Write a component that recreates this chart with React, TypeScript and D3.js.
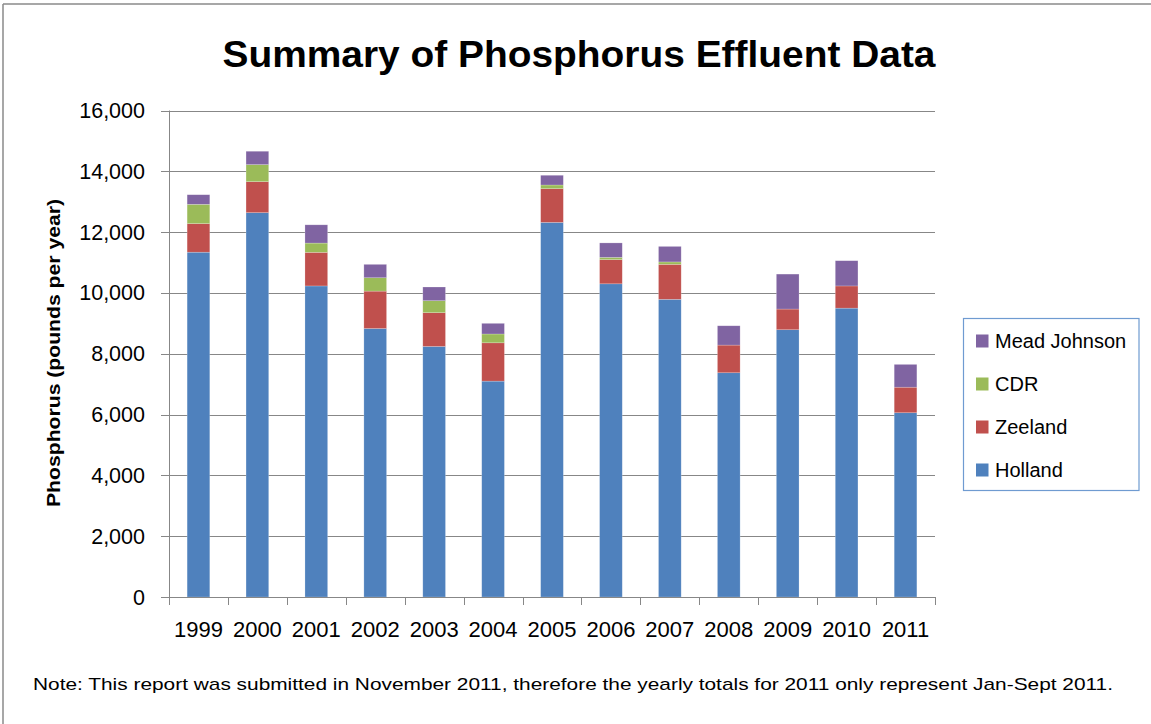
import React from "react";
import * as d3 from "d3";

const years = ["1999","2000","2001","2002","2003","2004","2005","2006","2007","2008","2009","2010","2011"];
const holland = [11340, 12640, 10230, 8830, 8240, 7100, 12320, 10300, 9790, 7375, 8790, 9500, 6060];
const zeeland = [940, 1020, 1105, 1230, 1110, 1260, 1110, 795, 1150, 910, 680, 730, 840];
const cdr = [635, 560, 305, 440, 395, 290, 120, 75, 80, 0, 0, 0, 0];
const meadJohnson = [315, 440, 600, 440, 450, 350, 320, 475, 510, 635, 1150, 830, 750];
const yTicks = [0, 2000, 4000, 6000, 8000, 10000, 12000, 14000, 16000];

const seriesNames = ["Holland", "Zeeland", "CDR", "Mead Johnson"];
const seriesColors = ["#4F81BD", "#C0504D", "#9BBB59", "#8064A2"];

const W = 1151, H = 724;
const plotL = 169, plotR = 935, plotT = 110.5, plotB = 597;
const FONT = "'Liberation Sans', Arial, sans-serif";

export default function App() {
  const table = years.map((y, i) => ({
    year: y,
    Holland: holland[i],
    Zeeland: zeeland[i],
    CDR: cdr[i],
    "Mead Johnson": meadJohnson[i],
  }));
  const stack = d3.stack<any>().keys(seriesNames)(table);
  const x = d3.scaleBand().domain(years).range([plotL, plotR]).paddingInner(0.615).paddingOuter(0.3075);
  const y = d3.scaleLinear().domain([0, 16000]).range([plotB, plotT]);
  const fmt = d3.format(",");
  const step = x.step();
  const boundaries = d3.range(years.length + 1).map((i) => plotL + i * step);
  const legendItems = [...seriesNames].reverse();

  return (
    <svg width={W} height={H} style={{ position: "absolute", left: 0, top: 0, display: "block", background: "#fff" }}>
      <rect x={0} y={0} width={W} height={H} fill="#fff" />
      <line x1={3} y1={4} x2={W} y2={4} stroke="#8a8a8a" strokeWidth={1.5} />
      <line x1={3} y1={4} x2={3} y2={H} stroke="#8a8a8a" strokeWidth={1.5} />

      <text x={579} y={67} textAnchor="middle" fontFamily={FONT} fontWeight="bold" fontSize={37}
        textLength={713} lengthAdjust="spacingAndGlyphs" fill="#000">Summary of Phosphorus Effluent Data</text>

      {yTicks.map((t) => (
        <g key={t}>
          <line x1={plotL - 8} x2={plotR} y1={Math.round(y(t)) + 0.5} y2={Math.round(y(t)) + 0.5} stroke="#878787" strokeWidth={1} />
          <text x={145} y={y(t) + 7.5} textAnchor="end" fontFamily={FONT} fontSize={21.5} fill="#000">{fmt(t)}</text>
        </g>
      ))}

      {stack.map((s, si) => (
        <g key={seriesNames[si]} fill={seriesColors[si]}>
          {s.map((d: any, i: number) => {
            const h = y(d[0]) - y(d[1]);
            if (h <= 0) return null;
            return (
              <rect key={i} x={x(years[i])} y={y(d[1])} width={x.bandwidth()} height={h}
                stroke="#ffffff" strokeOpacity={0.35} strokeWidth={0.6} />
            );
          })}
        </g>
      ))}

      <line x1={plotL + 0.5} x2={plotL + 0.5} y1={plotT} y2={plotB} stroke="#878787" strokeWidth={1} />
      <line x1={plotL} x2={plotR} y1={plotB + 0.5} y2={plotB + 0.5} stroke="#878787" strokeWidth={1} />
      {boundaries.map((b, i) => (
        <line key={i} x1={Math.round(b) + 0.5} x2={Math.round(b) + 0.5} y1={plotB} y2={plotB + 8} stroke="#878787" strokeWidth={1} />
      ))}
      {years.map((yr) => (
        <text key={yr} x={(x(yr) as number) + x.bandwidth() / 2} y={637} textAnchor="middle" fontFamily={FONT} fontSize={22} fill="#000">{yr}</text>
      ))}

      <text transform={`translate(60,353) rotate(-90)`} textAnchor="middle" fontFamily={FONT} fontWeight="bold" fontSize={19}
        textLength={308} lengthAdjust="spacingAndGlyphs" fill="#000">Phosphorus (pounds per year)</text>

      <rect x={963.5} y={318.5} width={175.5} height={172} fill="#fff" stroke="#6f9bd1" strokeWidth={1.2} />
      {legendItems.map((name, i) => {
        const cy = 341 + i * 43;
        const ci = seriesNames.indexOf(name);
        return (
          <g key={name}>
            <rect x={976} y={cy - 6.5} width={12.5} height={13} fill={seriesColors[ci]} />
            <text x={995} y={cy + 7} fontFamily={FONT} fontSize={20} fill="#000">{name}</text>
          </g>
        );
      })}

      <text x={33} y={690} fontFamily={FONT} fontSize={17} textLength={1080} lengthAdjust="spacingAndGlyphs" fill="#000">
        Note: This report was submitted in November 2011, therefore the yearly totals for 2011 only represent Jan-Sept 2011.
      </text>
    </svg>
  );
}
